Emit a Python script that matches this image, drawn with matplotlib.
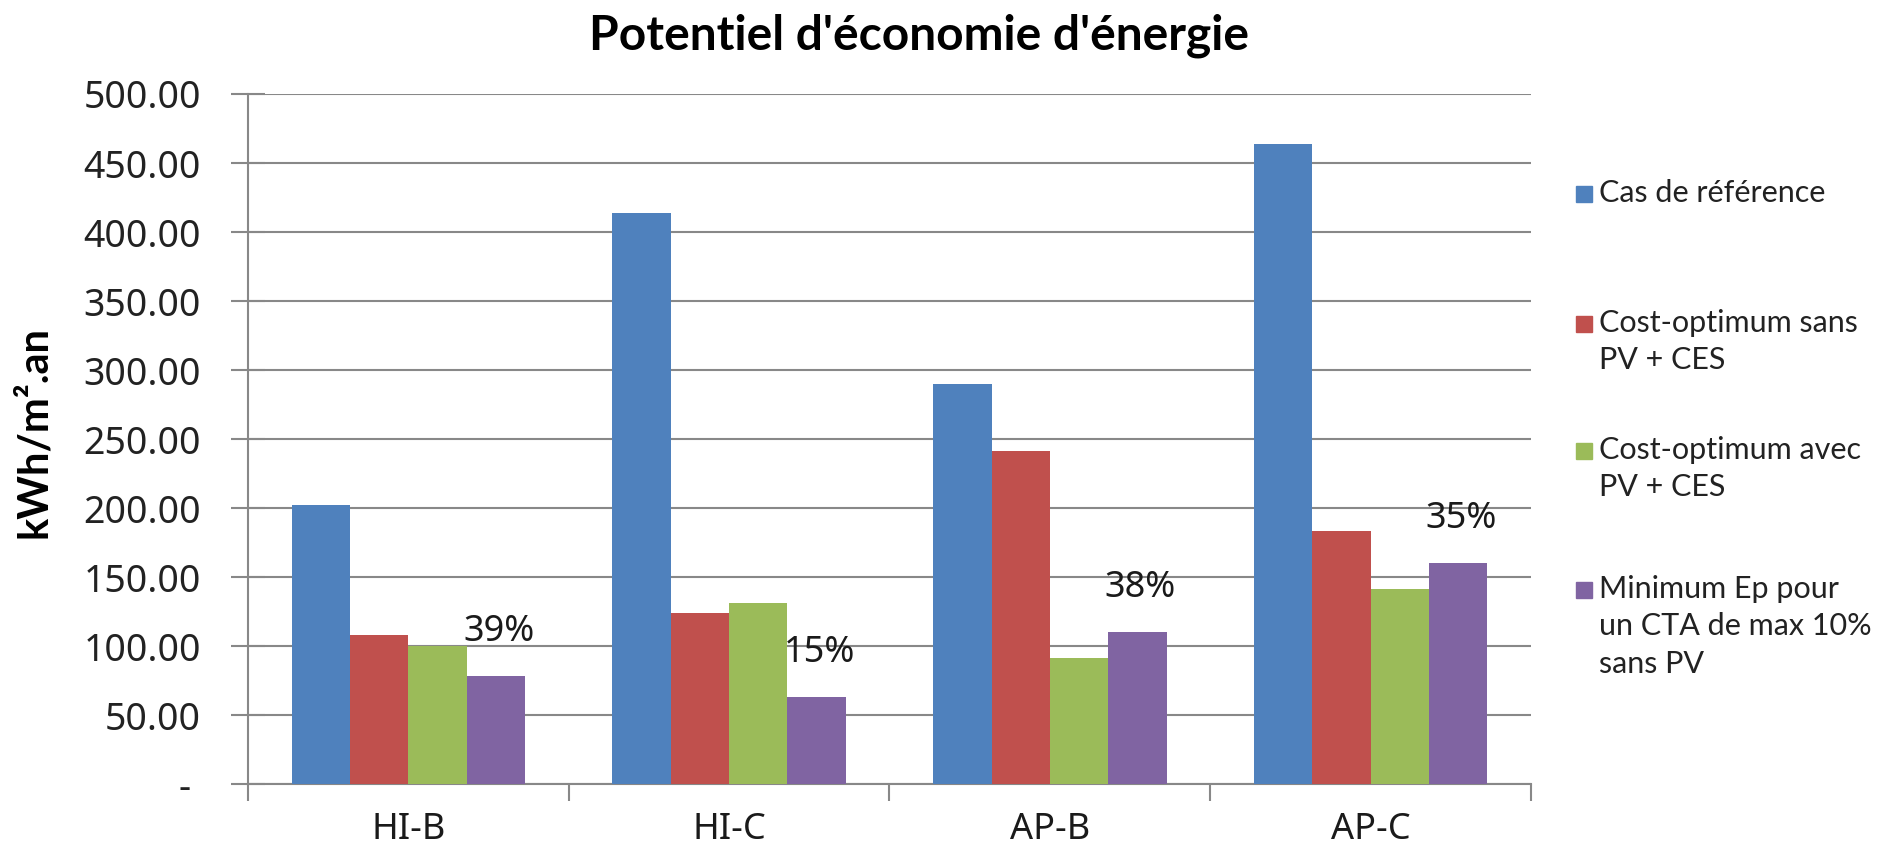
import matplotlib
matplotlib.use("Agg")
import matplotlib.pyplot as plt
from matplotlib.patches import Rectangle
from matplotlib.ticker import FuncFormatter, MultipleLocator
import numpy as np

categories = ["HI-B", "HI-C", "AP-B", "AP-C"]
series_names = [
    "Cas de référence",
    "Cost-optimum sans\nPV + CES",
    "Cost-optimum avec\nPV + CES",
    "Minimum Ep pour\nun CTA de max 10%\nsans PV",
]
cas_reference = [202, 414, 290, 464]
cost_opt_sans_pv = [108, 124, 241, 183]
cost_opt_avec_pv = [100, 131, 91, 141]
minimum_ep = [78, 63, 110, 160]
percent_labels = ["39%", "15%", "38%", "35%"]
colors = ["#4F81BD", "#C0504D", "#9BBB59", "#8064A2"]

series = [cas_reference, cost_opt_sans_pv, cost_opt_avec_pv, minimum_ep]

W, H = 1897, 855
fig = plt.figure(figsize=(W / 100, H / 100), dpi=100)
ax = fig.add_axes([248 / W, 1 - 784 / H, (1531 - 248) / W, (784 - 94) / H])

x = np.arange(len(categories))
bw = 1 / 5.5
for i, (vals, c) in enumerate(zip(series, colors)):
    ax.bar(x + (i - 1.5) * bw, vals, width=bw, color=c, zorder=3, linewidth=0)

for xi, v, lab in zip(x, minimum_ep, percent_labels):
    ax.text(xi + 1.5 * bw + 0.01, v + 32, lab, ha="center", va="center",
            fontsize=26, family="Noto Sans", color="#1a1a1a", zorder=4)

grid_c = "#888888"
ax.set_xlim(-0.5, 3.5)
ax.set_ylim(0, 500)
ax.yaxis.set_major_locator(MultipleLocator(50))
ax.yaxis.set_major_formatter(FuncFormatter(lambda v, p: "-\u00a0" if v == 0 else f"{v:.2f}"))
ax.grid(axis="y", color=grid_c, linewidth=1.5, zorder=0)
for s in ["top", "right"]:
    ax.spines[s].set_visible(False)
for s in ["left", "bottom"]:
    ax.spines[s].set_color(grid_c)
    ax.spines[s].set_linewidth(1.5)

ax.set_xticks(np.arange(-0.5, 4.0, 1.0))
ax.set_xticklabels([])
ax.set_xticks(x, minor=True)
ax.set_xticklabels(categories, minor=True)
ax.tick_params(axis="x", which="major", length=12, width=1.5, color=grid_c, direction="out")
ax.tick_params(axis="x", which="minor", length=0, pad=20, labelsize=26, labelcolor="#1a1a1a")
ax.tick_params(axis="y", length=24, width=1.5, color=grid_c, direction="inout",
               labelsize=27, pad=22, labelcolor="#222222")
for t in ax.get_xticklabels(minor=True):
    t.set_family("Noto Sans")
for t in ax.get_yticklabels():
    t.set_family("Noto Sans")

fig.text(34 / W, 1 - 432 / H, "kWh/m².an", rotation=90, ha="center", va="center",
         fontsize=30, fontweight="bold", family="Lato")

fig.text(919 / W, 1 - 36 / H, "Potentiel d'économie d'énergie", ha="center", va="center",
         fontsize=34.5, fontweight="bold", family="Lato")

# legend
leg_y = [194, 324, 451, 590]
for name, c, yy in zip(series_names, colors, leg_y):
    fig.patches.append(Rectangle((1576 / W, 1 - (yy + 8) / H), 16 / W, 16 / H,
                                 transform=fig.transFigure, color=c))
    fig.text(1599 / W, 1 - (yy - 15) / H, name, ha="left", va="top", fontsize=22,
             family="Lato", color="#222222", linespacing=1.41)

fig.savefig("out.png", dpi=100)
